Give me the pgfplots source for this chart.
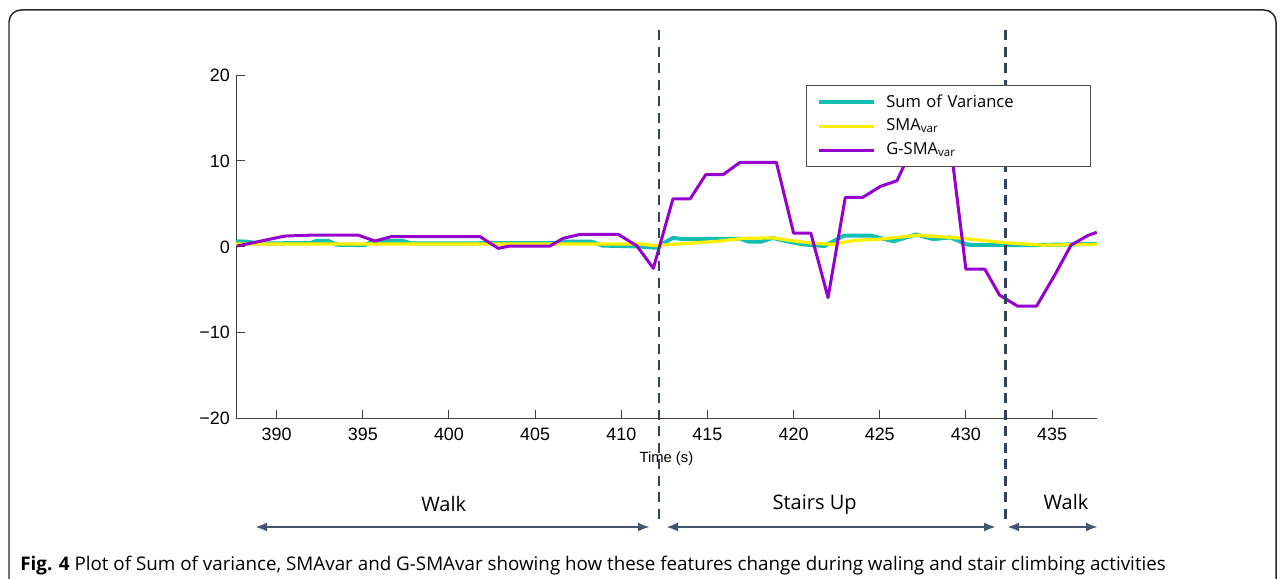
\documentclass[border=0pt]{standalone}
\usepackage{fontspec}
\setmainfont{Open Sans}
\newfontfamily\helv{Liberation Sans}
\usepackage{pgfplots}
\pgfplotsset{compat=1.18}
\usetikzlibrary{arrows.meta}
\definecolor{sumvar}{RGB}{20,190,178}
\definecolor{smavar}{RGB}{252,240,0}
\definecolor{gsma}{RGB}{150,0,205}
\definecolor{phase}{RGB}{50,66,88}
\definecolor{arrowc}{RGB}{65,85,110}
\definecolor{framec}{RGB}{40,40,40}

\pgfplotstableread{
t v
387.64 0.65
388.3 0.60
389.0 0.40
392.0 0.45
392.3 0.70
393.0 0.70
393.5 0.25
395.1 0.20
395.6 0.65
397.3 0.70
397.8 0.40
406.3 0.45
406.6 0.60
408.3 0.60
408.9 0.15
411.0 0.05
412.0 -0.10
413.0 1.05
413.6 0.90
416.9 0.95
417.4 0.60
418.1 0.60
418.8 1.05
419.5 0.70
420.5 0.30
421.8 0.10
422.9 1.30
424.5 1.30
425.8 0.65
427.1 1.45
428.1 0.90
429.1 1.10
430.1 0.25
433.8 0.20
437.6 0.35
}\sumvar

\pgfplotstableread{
t v
387.64 0.35
411.0 0.35
412.0 0.15
413.0 0.30
415.6 0.65
417.1 1.00
418.8 1.05
420.0 0.70
421.0 0.45
422.3 0.30
423.5 0.75
425.0 0.90
427.2 1.35
429.5 1.05
432.2 0.50
434.5 0.20
437.6 0.30
}\smavar

\pgfplotstableread{
t v
387.70 0.10
390.48 1.26
392.22 1.38
394.72 1.38
395.70 0.68
396.67 1.20
401.80 1.20
402.86 -0.17
403.54 0.10
405.86 0.10
406.63 1.00
407.60 1.45
409.83 1.45
410.90 0.13
411.86 -2.50
413.00 5.60
414.00 5.60
414.90 8.40
415.90 8.40
416.90 9.85
419.00 9.85
420.00 1.60
421.00 1.60
422.00 -5.90
423.00 5.75
424.00 5.75
425.05 7.05
426.00 7.70
427.00 12.00
429.10 12.00
430.00 -2.60
431.10 -2.60
431.95 -5.60
433.00 -6.90
434.10 -6.90
435.15 -3.30
436.10 0.20
437.10 1.35
437.60 1.70
}\gsmavar

\begin{document}
% picture units: 1 = one pixel of the 1284x578 reference, y measured upwards
\begin{tikzpicture}[x=0.02cm, y=0.02cm]
\useasboundingbox (0,0) rectangle (1284,578);
\begin{scope}
\clip (0,0) rectangle (1284,578);
\draw[framec, line width=0.03cm, rounded corners=0.24cm] (9,-42) -- (9,568) -- (1276,568) -- (1276,-42);
\end{scope}
\coordinate (axisorigin) at (236,159.3);

\begin{axis}[
    at={(axisorigin)}, anchor=south west,
    scale only axis,
    width=17.22cm, height=6.874cm,
    xmin=387.64, xmax=437.6,
    ymin=-20, ymax=20,
    axis x line=bottom, axis y line=left,
    axis line style={-, line width=0.02cm, black!75},
    tick align=inside,
    major tick length=0.18cm,
    tick style={line width=0.02cm, black!75},
    xtick={390,395,...,435},
    ytick={-20,-10,0,10,20},
    yticklabels={−20,−10,0,10,20},
    /pgf/number format/assume math mode=true,
    /pgf/number format/set thousands separator={},
    tick label style={font=\helv\fontsize{10.2}{12}\selectfont},
    xticklabel style={yshift=-0.06cm},
    xlabel={Time (s)},
    xlabel style={at={(axis description cs:0.5,-0.117)}, anchor=center, font=\helv\fontsize{8.4}{10}\selectfont},
    clip=false,
    legend style={
        at={(0.662,0.971)}, anchor=north west,
        draw=black!70, line width=0.02cm, fill=white,
        inner xsep=0.22cm, inner ysep=0.094cm,
        column sep=0.2cm, row sep=0pt,
        font=\fontsize{9.4}{11}\selectfont,
        nodes={inner sep=0pt, minimum height=0.48cm, text width=3.86cm},
        cells={anchor=west},
    },
    legend image code/.code={\draw[#1] (0cm,0cm) -- (1.1cm,0cm);},
]
\addplot[sumvar, line width=0.08cm, line join=round] table[x=t, y=v] {\sumvar};
\addlegendentry{Sum of Variance}
\addplot[smavar, line width=0.065cm, line join=round] table[x=t, y=v] {\smavar};
\addlegendentry{SMA\textsubscript{var}}
\addplot[gsma, line width=0.06cm, line join=round] table[x=t, y=v] {\gsmavar};
\addlegendentry{G-SMA\textsubscript{var}}

\draw[phase, line width=0.05cm, dash pattern=on 0.2cm off 0.13cm]
    (axis cs:412.2,25.2) -- (axis cs:412.2,-31.7);
\draw[phase, line width=0.05cm, dash pattern=on 0.2cm off 0.13cm]
    (axis cs:432.3,25.2) -- (axis cs:432.3,-31.7);
\end{axis}

\draw[arrowc, line width=0.045cm, {Latex[length=0.24cm,width=0.18cm]}-{Latex[length=0.24cm,width=0.18cm]}] (255,51) -- (650,51);
\draw[arrowc, line width=0.045cm, {Latex[length=0.24cm,width=0.18cm]}-{Latex[length=0.24cm,width=0.18cm]}] (666,51) -- (996,51);
\draw[arrowc, line width=0.045cm, {Latex[length=0.24cm,width=0.18cm]}-{Latex[length=0.24cm,width=0.18cm]}] (1007,51) -- (1098,51);

\node[font=\fontsize{11.4}{13}\selectfont] at (443.7,74) {Walk};
\node[font=\fontsize{11.4}{13}\selectfont] at (814.7,73) {Stairs Up};
\node[font=\fontsize{11.4}{13}\selectfont] at (1066,76) {Walk};

\node[anchor=base west, inner sep=0pt, font=\fontsize{10.7}{12}\selectfont] at (20,8)
    {\textbf{Fig. 4} Plot of Sum of variance, SMAvar and G-SMAvar showing how these features change during waling and stair climbing activities};
\end{tikzpicture}
\end{document}
